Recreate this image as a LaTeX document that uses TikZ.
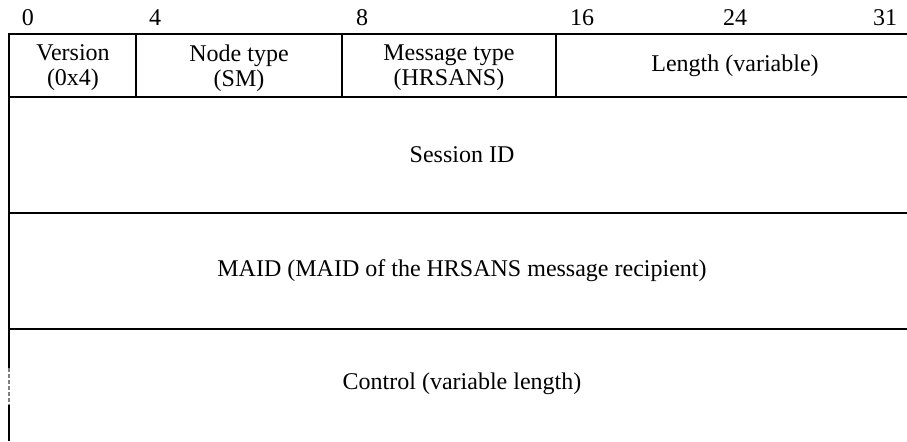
\documentclass[tikz,border=0pt]{standalone}
\usepackage{fontspec}
\setmainfont{Liberation Serif}
\begin{document}
\begin{tikzpicture}[x=0.5pt, y=-0.5pt, line width=1.2pt,
	field/.style={align=center, inner sep=0pt, font=\fontsize{12}{12.5}\selectfont},
	bitnum/.style={inner sep=0pt, font=\fontsize{12}{12.5}\selectfont}]
	\useasboundingbox (0,0) rectangle (907,441);

	% Draw bit numbers
	\node[bitnum] (b0) at (28,18) {0};
	\node[bitnum] (b4) at (155,18) {4};
	\node[bitnum] (b8) at (362,18) {8};
	\node[bitnum] (b16) at (582,18) {16};
	\node[bitnum] (b24) at (735,18) {24};
	\node[bitnum] (b31) at (885,18) {31};

	% Draw row borders
	\draw (9,34) -- (907,34);
	\draw (9,97) -- (907,97);
	\draw (9,213) -- (907,213);
	\draw (9,329) -- (907,329);

	% Draw field dividers of the first row
	\draw (136,34) -- (136,97);
	\draw (342,34) -- (342,97);
	\draw (556,34) -- (556,97);

	% Draw left border
	\draw (9,33.4) -- (9,368);
	\draw[gray, dashed, line width=0.9pt, dash pattern=on 2pt off 1pt] (9,368) -- (9,405);
	\draw (9,405) -- (9,441);

	% Field labels
	\node[field] (version) at (73,68) {Version\\(0x4)};
	\node[field] (nodetype) at (239,68) {Node type\\(SM)};
	\node[field] (msgtype) at (449,68) {Message type\\(HRSANS)};
	\node[field] (length) at (735,66) {Length (variable)};
	\node[field] (session) at (462,155) {Session ID};
	\node[field] (maid) at (462,271) {MAID (MAID of the HRSANS message recipient)};
	\node[field] (control) at (462,384) {Control (variable length)};
\end{tikzpicture}
\end{document}
